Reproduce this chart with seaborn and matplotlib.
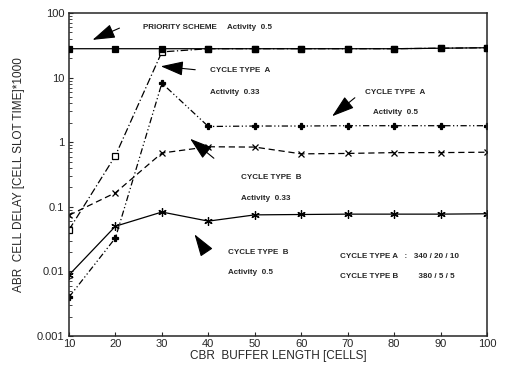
import pandas as pd
import seaborn as sns
import matplotlib.pyplot as plt
import numpy as np

# Data
buffer_len = [10, 20, 30, 40, 50, 60, 70, 80, 90, 100]
priority_05 = [28, 28, 28, 28, 28, 28, 28, 28, 28.5, 29]
cycle_a_033 = [0.044, 0.62, 25, 28, 28, 28, 28, 28, 28.5, 29]
cycle_a_05 = [0.004, 0.033, 8.2, 1.75, 1.78, 1.78, 1.8, 1.8, 1.8, 1.8]
cycle_b_033 = [0.074, 0.165, 0.68, 0.85, 0.84, 0.66, 0.67, 0.69, 0.69, 0.7]
cycle_b_05 = [0.0088, 0.05, 0.083, 0.06, 0.075, 0.076, 0.077, 0.077, 0.077, 0.078]

sns.set_style("ticks")
plt.rcParams["font.family"] = ["Liberation Sans", "DejaVu Sans"]

fig = plt.figure(figsize=(5.08, 3.7), dpi=100)
ax = fig.add_axes([69 / 508, 34 / 370, 418 / 508, 323 / 370])

# (values, linestyle, marker, facecolor, size, zorder)
series = [
    (cycle_a_033, (0, (6, 2, 1, 2)), "s", "white", 5, 2),
    (cycle_a_05, (0, (5, 2, 1, 2, 1, 2)), "P", "black", 5, 2),
    (cycle_b_033, (0, (5, 3)), "x", "black", 5, 2),
    (cycle_b_05, "-", (6, 2, 0), "black", 6, 2),
    (priority_05, "-", "s", "black", 5, 3),
]
for vals, ls, mk, fc, ms, z in series:
    d = pd.DataFrame({"x": buffer_len, "y": vals})
    sns.lineplot(data=d, x="x", y="y", ax=ax, color="black", linewidth=0.9,
                 linestyle=ls, marker=mk, markersize=ms, markerfacecolor=fc,
                 markeredgecolor="black", markeredgewidth=0.9, zorder=z)

ax.set_yscale("log")
ax.set_ylim(0.001, 100)
ax.set_xlim(10, 100)
ax.set_xticks(buffer_len)
ax.set_yticks([0.001, 0.01, 0.1, 1, 10, 100])
ax.set_yticklabels(["0.001", "0.01", "0.1", "1", "10", "100"])
ax.tick_params(axis="both", labelsize=8, direction="in", length=3, width=0.8)
ax.tick_params(axis="y", which="minor", direction="in", length=2)
ax.tick_params(axis="x", pad=2)
for s in ax.spines.values():
    s.set_linewidth(1.1)
    s.set_visible(True)
ax.set_xlabel("CBR  BUFFER LENGTH [CELLS]", fontsize=8.5, labelpad=1)
ax.set_ylabel("ABR  CELL DELAY [CELL SLOT TIME]*1000", fontsize=8.5, labelpad=8)


def px(x, y):
    return ((x - 69) / 418, (336 - y) / 323)


fs = 5.8
texts = [
    (143, 27, "PRIORITY SCHEME"), (227, 27, "Activity  0.5"),
    (210, 70, "CYCLE TYPE  A"), (210, 92, "Activity  0.33"),
    (365, 92, "CYCLE TYPE  A"), (373, 112, "Activity  0.5"),
    (241, 177, "CYCLE TYPE  B"), (241, 198, "Activity  0.33"),
    (228, 252, "CYCLE TYPE  B"), (228, 272, "Activity  0.5"),
    (340, 256, "CYCLE TYPE A   :   340 / 20 / 10"),
    (340, 277, "CYCLE TYPE B         380 / 5 / 5"),
]
for x, y, t in texts:
    ax.text(*px(x, y), t, transform=ax.transAxes, fontsize=fs,
            ha="left", va="center", fontweight="bold")

arrows = [
    ((122, 27), (90, 41)),
    ((198, 70), (158, 66)),
    ((357, 96), (330, 118)),
    ((216, 160), (188, 137)),
    ((205, 250), (193, 232)),
]
for (x0, y0), (x1, y1) in arrows:
    ax.annotate("", xy=px(x1, y1), xytext=px(x0, y0), xycoords="axes fraction",
                textcoords="axes fraction",
                arrowprops=dict(arrowstyle="-|>,head_length=1.4,head_width=0.45",
                                color="black", lw=0.8))

fig.savefig("out.png", dpi=100)
